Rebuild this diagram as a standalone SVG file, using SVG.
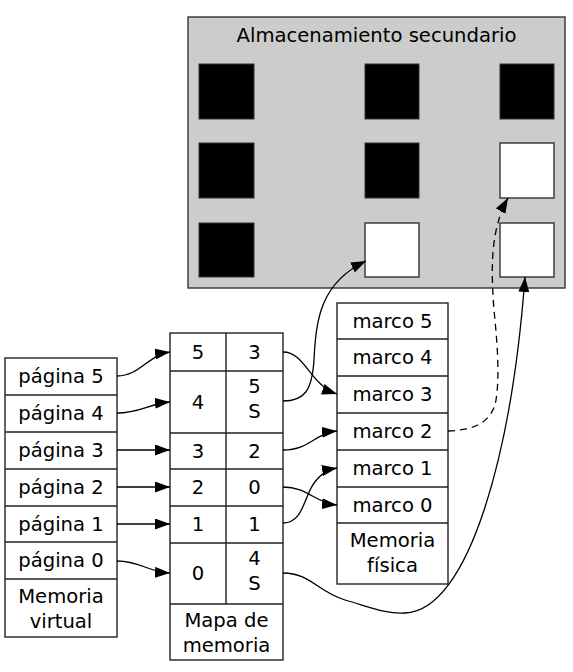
<svg xmlns="http://www.w3.org/2000/svg" width="573" height="672" viewBox="0 0 573 672">
<style>
text{font-family:"DejaVu Sans",Verdana,sans-serif;font-size:19.6px;fill:#000;text-anchor:middle}
.box{fill:#fff;stroke:#222;stroke-width:1.4}
.sep{stroke:#222;stroke-width:1.4;fill:none}
.blk{fill:#000;stroke:#333;stroke-width:1}
.wht{fill:#fff;stroke:#333;stroke-width:1.4}
.edge{fill:none;stroke:#000;stroke-width:1.3}
.dash{stroke-dasharray:7,5}
</style>
<defs>
<marker id="ah" viewBox="0 0 15 11" refX="15" refY="5.5" markerWidth="15" markerHeight="11" markerUnits="userSpaceOnUse" orient="auto">
<path d="M0,0 L15,5.5 L0,11 Z" fill="#000"/>
</marker>
</defs>
<g id="secundario">
<rect x="188" y="17" width="377" height="271" fill="#cccccc" stroke="#333" stroke-width="1.4"/>
<text x="376.5" y="42">Almacenamiento secundario</text>
<rect class="blk" x="199" y="64" width="55" height="55"/>
<rect class="blk" x="365" y="64" width="54" height="55"/>
<rect class="blk" x="500" y="64" width="54" height="55"/>
<rect class="blk" x="199" y="143" width="55" height="55"/>
<rect class="blk" x="365" y="143" width="54" height="55"/>
<rect class="wht" x="500" y="143" width="54" height="55"/>
<rect class="blk" x="199" y="223" width="55" height="54"/>
<rect class="wht" x="365" y="223" width="54" height="54"/>
<rect class="wht" x="500" y="223" width="54" height="54"/>
</g>
<g id="memoria_virtual">
<rect class="box" x="5" y="358" width="112" height="279"/>
<path class="sep" d="M5,395H117M5,432H117M5,469H117M5,506H117M5,542H117M5,579H117"/>
<text x="61" y="383">página 5</text>
<text x="61" y="420">página 4</text>
<text x="61" y="457">página 3</text>
<text x="61" y="494">página 2</text>
<text x="61" y="531">página 1</text>
<text x="61" y="567">página 0</text>
<text x="61" y="603">Memoria</text>
<text x="61" y="628">virtual</text>
</g>
<g id="mapa_memoria">
<rect class="box" x="170" y="333" width="113" height="327"/>
<path class="sep" d="M170,371H283M170,433H283M170,469H283M170,506H283M170,543H283M170,604H283M226,333V604"/>
<text x="198" y="358.5">5</text><text x="254.5" y="358.5">3</text>
<text x="198" y="408.5">4</text><text x="254.5" y="393">5</text><text x="254.5" y="418">S</text>
<text x="198" y="457.5">3</text><text x="254.5" y="457.5">2</text>
<text x="198" y="494">2</text><text x="254.5" y="494">0</text>
<text x="198" y="531">1</text><text x="254.5" y="531">1</text>
<text x="198" y="580">0</text><text x="254.5" y="565">4</text><text x="254.5" y="590">S</text>
<text x="226.5" y="627">Mapa de</text>
<text x="226.5" y="652">memoria</text>
</g>
<g id="memoria_fisica">
<rect class="box" x="337" y="303" width="111" height="281"/>
<path class="sep" d="M337,339H448M337,376H448M337,413H448M337,450H448M337,487H448M337,523H448"/>
<text x="392.5" y="327.5">marco 5</text>
<text x="392.5" y="364">marco 4</text>
<text x="392.5" y="401">marco 3</text>
<text x="392.5" y="438">marco 2</text>
<text x="392.5" y="475">marco 1</text>
<text x="392.5" y="511.5">marco 0</text>
<text x="392.5" y="547">Memoria</text>
<text x="392.5" y="572">física</text>
</g>
<g id="conectores">
<path class="edge" marker-end="url(#ah)" d="M117,376 C140,376 148,355 170,352"/>
<path class="edge" marker-end="url(#ah)" d="M117,413 C140,413 148,404 170,402"/>
<path class="edge" marker-end="url(#ah)" d="M117,450 L170,450"/>
<path class="edge" marker-end="url(#ah)" d="M117,487 L170,487"/>
<path class="edge" marker-end="url(#ah)" d="M117,524 L170,524"/>
<path class="edge" marker-end="url(#ah)" d="M117,561 C140,561 148,572 170,573"/>
<path class="edge" marker-end="url(#ah)" d="M283,352 C305,352 310,385 337,394"/>
<path class="edge" marker-end="url(#ah)" d="M283,401 C305,401 312,390 314,360 C316,320 320,283 366,261"/>
<path class="edge" marker-end="url(#ah)" d="M283,450 C310,450 315,433 337,431"/>
<path class="edge" marker-end="url(#ah)" d="M283,487 C308,487 315,503 337,505"/>
<path class="edge" marker-end="url(#ah)" d="M283,523 C300,523 303,505 310,490 C316,478 325,470 337,468"/>
<path class="edge" marker-end="url(#ah)" d="M283,573 C310,573 318,592 345,600 C370,607 385,614 405,613 C470,610 512,450 525,277"/>
<path class="edge dash" marker-end="url(#ah)" d="M448,431 C475,430 492,422 496,400 C500,375 497,340 494,310 C491,270 490,230 508,198"/>
</g>
</svg>
